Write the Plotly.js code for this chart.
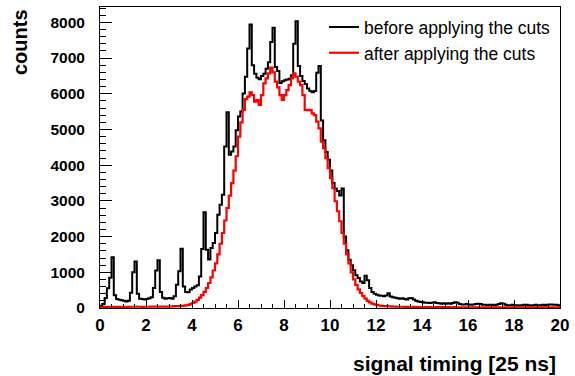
<!DOCTYPE html>
<html>
<head>
<meta charset="utf-8">
<script src="https://cdn.plot.ly/plotly-3.0.1.min.js"></script>
<style>html,body{margin:0;padding:0;background:#fff;}#chart{width:575px;height:376px;}</style>
</head>
<body>
<div id="chart"></div>
<script>
// Histogram binning: 200 bins from 0 to 20 (width 0.1), signal timing in units of 25 ns
const binLow = 0;
const binWidth = 0.1;

// Counts per bin, before applying the cuts (black)
const before = [
  60, 110, 280, 550, 850, 1420, 360, 250, 230, 220,
  200, 180, 200, 430, 1000, 1300, 400, 260, 250, 240,
  250, 270, 300, 560, 1050, 1340, 450, 290, 260, 270,
  280, 260, 330, 650, 1030, 1660, 600, 450, 440, 520,
  560, 600, 640, 880, 1650, 2680, 1630, 1360, 1680, 1820,
  2100, 2610, 2890, 3170, 4520, 5480, 4290, 4380, 4520, 4980,
  5360, 5500, 6010, 6480, 7270, 7940, 6800, 6560, 6450, 6410,
  6500, 6560, 6700, 6880, 7450, 7850, 6750, 6640, 6300, 6350,
  6380, 6400, 6420, 6520, 7400, 8030, 6780, 6500, 6360, 6270,
  6150, 6080, 6040, 6080, 6590, 6780, 5250, 4700, 4370, 4150,
  3850, 3500, 3350, 3280, 3150, 3350, 2000, 1620, 1350, 1200,
  1060, 920, 840, 740, 700, 900, 780, 560, 450, 400,
  370, 350, 340, 330, 350, 410, 320, 300, 290, 270,
  260, 270, 250, 240, 270, 280, 240, 200, 180, 170,
  160, 150, 150, 140, 150, 160, 140, 130, 120, 130,
  120, 130, 120, 140, 160, 150, 110, 100, 100, 110,
  100, 90, 100, 110, 120, 110, 90, 90, 80, 90,
  90, 80, 90, 110, 130, 120, 90, 80, 80, 90,
  80, 80, 70, 80, 90, 90, 80, 70, 80, 90,
  80, 80, 90, 80, 90, 100, 100, 90, 90, 80
];

// Counts per bin, after applying the cuts (red)
const after = [
  20, 25, 30, 30, 35, 35, 30, 35, 30, 30,
  30, 35, 30, 35, 35, 40, 35, 35, 30, 35,
  35, 35, 40, 35, 40, 40, 35, 40, 40, 40,
  45, 45, 50, 50, 55, 60, 65, 75, 90, 110,
  140, 180, 230, 290, 360, 450, 560, 700, 860, 1050,
  1250, 1500, 1800, 2100, 2450, 2800, 3150, 3500, 3850, 4250,
  4800, 5200, 5550, 5850, 5920, 6040, 5960, 5780, 5820, 5690,
  5960, 6290, 6430, 6570, 6730, 6600, 6340, 6180, 5960, 5830,
  5960, 6100, 6240, 6430, 6570, 6480, 6340, 6240, 5960, 5550,
  5540, 5550, 5450, 5400, 5220, 5030, 4660, 4480, 4200, 3920,
  3640, 3360, 2990, 2710, 2430, 2100, 1800, 1500, 1250, 1000,
  800, 650, 520, 420, 330, 260, 200, 160, 125, 100,
  85, 70, 60, 55, 50, 45, 45, 40, 40, 35,
  35, 35, 30, 30, 30, 30, 30, 25, 25, 25,
  25, 25, 25, 25, 25, 25, 25, 25, 20, 25,
  20, 25, 20, 20, 25, 20, 20, 20, 20, 20,
  20, 20, 20, 20, 20, 20, 20, 20, 20, 20,
  20, 20, 20, 20, 20, 20, 20, 20, 20, 20,
  20, 20, 20, 20, 20, 20, 20, 20, 20, 20,
  20, 20, 20, 20, 20, 20, 20, 20, 20, 20
];

const seriesNames = ["before applying the cuts", "after applying the cuts"];
const xTitle = "signal timing [25 ns]";
const yTitle = "counts";

function stepTrace(vals, name, color, group, width) {
  const xs = [binLow];
  const ys = [0];
  for (let i = 0; i < vals.length; i++) {
    xs.push(binLow + i * binWidth);
    ys.push(vals[i]);
  }
  xs.push(binLow + vals.length * binWidth);
  ys.push(0);
  return {
    x: xs, y: ys, type: "scatter", mode: "lines", name: name,
    legendgroup: group,
    line: {shape: "hv", color: color, width: width},
    hoverinfo: "skip"
  };
}

const data = [
  stepTrace(before, seriesNames[0], "#000000", "a", 2),
  stepTrace(after, seriesNames[1], "#ff0000", "b", 2.2)
];

const F = "Liberation Sans, Arial, Helvetica, sans-serif";

const layout = {
  width: 575, height: 376,
  margin: {l: 100, r: 15, t: 7, b: 68, pad: 0},
  paper_bgcolor: "#ffffff", plot_bgcolor: "#ffffff",
  showlegend: true,
  legend: {
    x: (324 - 100) / 460, y: 0.993, xanchor: "left", yanchor: "top",
    bgcolor: "rgba(0,0,0,0)", borderwidth: 0,
    font: {family: F, size: 17.5, color: "#000"},
    tracegroupgap: 0
  },
  xaxis: {
    range: [0, 20], dtick: 2, tick0: 0,
    showline: true, linecolor: "#000", linewidth: 1, mirror: true,
    ticks: "inside", ticklen: 8, tickwidth: 1, tickcolor: "#000",
    minor: {ticks: "inside", ticklen: 4, dtick: 0.5, tickcolor: "#000"},
    showgrid: false, zeroline: false,
    tickfont: {family: F, size: 17, weight: "bold", color: "#000"},
    ticklabelstandoff: 2
  },
  yaxis: {
    range: [0, 8430], dtick: 1000, tick0: 0,
    showline: true, linecolor: "#000", linewidth: 1, mirror: true,
    ticks: "inside", ticklen: 12, tickwidth: 1, tickcolor: "#000",
    minor: {ticks: "inside", ticklen: 6, dtick: 200, tickcolor: "#000"},
    showgrid: false, zeroline: false,
    tickfont: {family: F, size: 15.5, weight: "bold", color: "#000"},
    ticklabelstandoff: 11
  },
  annotations: [
    {text: yTitle, xref: "paper", yref: "paper", x: (20 - 100) / 460, y: 1,
     xanchor: "center", yanchor: "top", textangle: -90, showarrow: false,
     font: {family: F, size: 20, weight: "bold", color: "#000"}},
    {text: xTitle, xref: "paper", yref: "paper", x: (558 - 100) / 460, y: -56 / 301,
     xanchor: "right", yanchor: "middle", showarrow: false,
     font: {family: F, size: 21, weight: "bold", color: "#000"}}
  ]
};

Plotly.newPlot("chart", data, layout, {staticPlot: true, displayModeBar: false});
</script>
</body>
</html>
